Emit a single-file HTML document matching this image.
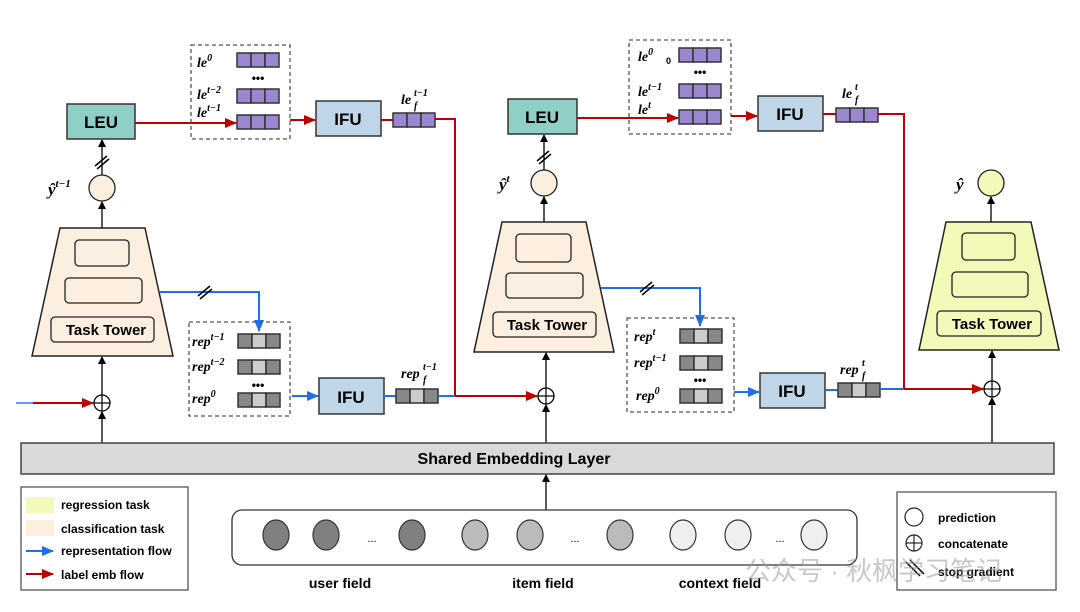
<!DOCTYPE html>
<html><head><meta charset="utf-8"><style>
html,body{margin:0;padding:0;background:#fff;}
svg{display:block;font-family:"Liberation Sans","Noto Sans CJK SC",sans-serif;}
.b{font-weight:bold;}
.m{font-family:"Liberation Serif",serif;font-style:italic;font-weight:bold;}
</style></head><body>
<svg width="1080" height="612" viewBox="0 0 1080 612" xmlns="http://www.w3.org/2000/svg">
<defs>
<marker id="ak" markerWidth="8" markerHeight="8" refX="7" refY="4" orient="auto" markerUnits="userSpaceOnUse"><path d="M0,0 L8,4 L0,8 z" fill="#000"/></marker>
<marker id="ar" markerWidth="12" markerHeight="10" refX="11" refY="5" orient="auto" markerUnits="userSpaceOnUse"><path d="M0,0 L12,5 L0,10 z" fill="#c00000"/></marker>
<marker id="ab" markerWidth="12" markerHeight="10" refX="11" refY="5" orient="auto" markerUnits="userSpaceOnUse"><path d="M0,0 L12,5 L0,10 z" fill="#1f6fe8"/></marker>
<g id="pv"><rect x="0" y="0" width="14" height="14" fill="#9b86d0" stroke="#333" stroke-width="1.5"/><rect x="14" y="0" width="14" height="14" fill="#9b86d0" stroke="#333" stroke-width="1.5"/><rect x="28" y="0" width="14" height="14" fill="#9b86d0" stroke="#333" stroke-width="1.5"/></g>
<g id="gv"><rect x="0" y="0" width="14" height="14" fill="#888" stroke="#333" stroke-width="1.5"/><rect x="14" y="0" width="14" height="14" fill="#ccc" stroke="#333" stroke-width="1.5"/><rect x="28" y="0" width="14" height="14" fill="#888" stroke="#333" stroke-width="1.5"/></g>
<g id="sg"><line x1="-7" y1="4" x2="5" y2="-6" stroke="#000" stroke-width="1.5"/><line x1="-5" y1="7" x2="7" y2="-3" stroke="#000" stroke-width="1.5"/></g>
</defs>

<!-- ===== Left column ===== -->
<polygon points="60,228 145,228 173,356 32,356" fill="#fdefe0" stroke="#222" stroke-width="1.5"/>
<rect x="75" y="240" width="54" height="26" rx="4" fill="#fdefe0" stroke="#222" stroke-width="1.3"/>
<rect x="65" y="278" width="77" height="25" rx="4" fill="#fdefe0" stroke="#222" stroke-width="1.3"/>
<rect x="51" y="317" width="103" height="25" rx="4" fill="#fdefe0" stroke="#222" stroke-width="1.3"/>
<text x="106" y="335" text-anchor="middle" class="b" font-size="15">Task Tower</text>
<line x1="102" y1="228" x2="102" y2="202" stroke="#000" stroke-width="1.3" marker-end="url(#ak)"/>
<circle cx="102" cy="188" r="13" fill="#fdefe0" stroke="#222" stroke-width="1.3"/>
<text x="48" y="195" class="m" font-size="17">ŷ<tspan dy="-8" font-size="11">t−1</tspan></text>
<line x1="102" y1="175" x2="102" y2="140" stroke="#000" stroke-width="1.3" marker-end="url(#ak)"/>
<use href="#sg" x="102" y="162"/>
<rect x="67" y="104" width="68" height="35" fill="#8fcfc8" stroke="#333" stroke-width="1.5"/>
<text x="101" y="128" text-anchor="middle" class="b" font-size="17">LEU</text>
<line x1="135" y1="123" x2="236" y2="123" stroke="#c00000" stroke-width="2" marker-end="url(#ar)"/>
<rect x="191" y="45" width="99" height="94" fill="none" stroke="#555" stroke-width="1.3" stroke-dasharray="4,3"/>
<use href="#pv" x="237" y="53"/><use href="#pv" x="237" y="89"/><use href="#pv" x="237" y="115"/>
<text x="258" y="82" text-anchor="middle" class="b" font-size="12">•••</text>
<text x="197" y="67" class="m" font-size="14">le<tspan dy="-6" font-size="10">0</tspan></text>
<text x="197" y="99" class="m" font-size="14">le<tspan dy="-6" font-size="10">t−2</tspan></text>
<text x="197" y="117" class="m" font-size="14">le<tspan dy="-6" font-size="10">t−1</tspan></text>
<line x1="290" y1="120" x2="315" y2="120" stroke="#c00000" stroke-width="2" marker-end="url(#ar)"/>
<rect x="316" y="101" width="65" height="35" fill="#bed6e8" stroke="#333" stroke-width="1.5"/>
<text x="348" y="125" text-anchor="middle" class="b" font-size="17">IFU</text>
<line x1="381" y1="120" x2="393" y2="120" stroke="#c00000" stroke-width="2"/>
<use href="#pv" x="393" y="113"/>
<text x="401" y="104" class="m" font-size="14">le</text><text x="414" y="96" class="m" font-size="10">t−1</text><text x="414" y="109" class="m" font-size="10">f</text>
<polyline points="435,119 455,119 455,396" fill="none" stroke="#c00000" stroke-width="2"/>

<polyline points="160,292 259,292 259,331" fill="none" stroke="#1f6fe8" stroke-width="2" marker-end="url(#ab)"/>
<use href="#sg" x="205" y="292"/>
<rect x="189" y="322" width="101" height="94" fill="none" stroke="#555" stroke-width="1.3" stroke-dasharray="4,3"/>
<use href="#gv" x="238" y="334"/><use href="#gv" x="238" y="360"/><use href="#gv" x="238" y="393"/>
<text x="258" y="389" text-anchor="middle" class="b" font-size="12">•••</text>
<text x="192" y="346" class="m" font-size="14">rep<tspan dy="-6" font-size="10">t−1</tspan></text>
<text x="192" y="371" class="m" font-size="14">rep<tspan dy="-6" font-size="10">t−2</tspan></text>
<text x="192" y="403" class="m" font-size="14">rep<tspan dy="-6" font-size="10">0</tspan></text>
<line x1="292" y1="396" x2="318" y2="396" stroke="#1f6fe8" stroke-width="2" marker-end="url(#ab)"/>
<rect x="319" y="378" width="65" height="36" fill="#bed6e8" stroke="#333" stroke-width="1.5"/>
<text x="351" y="403" text-anchor="middle" class="b" font-size="17">IFU</text>
<line x1="384" y1="396" x2="396" y2="396" stroke="#1f6fe8" stroke-width="2"/>
<use href="#gv" x="396" y="389"/>
<text x="401" y="378" class="m" font-size="14">rep</text><text x="423" y="370" class="m" font-size="10">t−1</text><text x="423" y="383" class="m" font-size="10">f</text>
<line x1="438" y1="396" x2="455" y2="396" stroke="#1f6fe8" stroke-width="2"/>
<line x1="455" y1="396" x2="537" y2="396" stroke="#c00000" stroke-width="2" marker-end="url(#ar)"/>

<line x1="16" y1="403" x2="33" y2="403" stroke="#5a9cf0" stroke-width="2"/>
<line x1="33" y1="403" x2="93" y2="403" stroke="#c00000" stroke-width="2" marker-end="url(#ar)"/>
<circle cx="102" cy="403" r="8" fill="#fff" stroke="#000" stroke-width="1.3"/>
<line x1="94" y1="403" x2="110" y2="403" stroke="#000" stroke-width="1.2"/><line x1="102" y1="395" x2="102" y2="411" stroke="#000" stroke-width="1.2"/>
<line x1="102" y1="395" x2="102" y2="357" stroke="#000" stroke-width="1.3" marker-end="url(#ak)"/>
<line x1="102" y1="443" x2="102" y2="412" stroke="#000" stroke-width="1.3" marker-end="url(#ak)"/>

<!-- ===== Middle column ===== -->
<polygon points="502,222 586,222 614,352 474,352" fill="#fdefe0" stroke="#222" stroke-width="1.5"/>
<rect x="516" y="234" width="55" height="28" rx="4" fill="#fdefe0" stroke="#222" stroke-width="1.3"/>
<rect x="506" y="273" width="77" height="25" rx="4" fill="#fdefe0" stroke="#222" stroke-width="1.3"/>
<rect x="493" y="312" width="103" height="25" rx="4" fill="#fdefe0" stroke="#222" stroke-width="1.3"/>
<text x="547" y="330" text-anchor="middle" class="b" font-size="15">Task Tower</text>
<line x1="544" y1="222" x2="544" y2="197" stroke="#000" stroke-width="1.3" marker-end="url(#ak)"/>
<circle cx="544" cy="183" r="13" fill="#fdefe0" stroke="#222" stroke-width="1.3"/>
<text x="499" y="190" class="m" font-size="17">ŷ<tspan dy="-8" font-size="11">t</tspan></text>
<line x1="544" y1="170" x2="544" y2="135" stroke="#000" stroke-width="1.3" marker-end="url(#ak)"/>
<use href="#sg" x="544" y="157"/>
<rect x="508" y="99" width="69" height="35" fill="#8fcfc8" stroke="#333" stroke-width="1.5"/>
<text x="542" y="123" text-anchor="middle" class="b" font-size="17">LEU</text>
<line x1="577" y1="118" x2="678" y2="118" stroke="#c00000" stroke-width="2" marker-end="url(#ar)"/>
<rect x="629" y="40" width="102" height="94" fill="none" stroke="#555" stroke-width="1.3" stroke-dasharray="4,3"/>
<use href="#pv" x="679" y="48"/><use href="#pv" x="679" y="84"/><use href="#pv" x="679" y="110"/>
<text x="700" y="76" text-anchor="middle" class="b" font-size="12">•••</text>
<text x="638" y="61" class="m" font-size="14">le<tspan dy="-6" font-size="10">0</tspan></text>
<text x="666" y="64" class="b" font-size="9">0</text>
<text x="638" y="96" class="m" font-size="14">le<tspan dy="-6" font-size="10">t−1</tspan></text>
<text x="638" y="114" class="m" font-size="14">le<tspan dy="-6" font-size="10">t</tspan></text>
<line x1="731" y1="116" x2="757" y2="116" stroke="#c00000" stroke-width="2" marker-end="url(#ar)"/>
<rect x="758" y="96" width="65" height="35" fill="#bed6e8" stroke="#333" stroke-width="1.5"/>
<text x="790" y="120" text-anchor="middle" class="b" font-size="17">IFU</text>
<line x1="823" y1="114" x2="836" y2="114" stroke="#c00000" stroke-width="2"/>
<use href="#pv" x="836" y="108"/>
<text x="842" y="98" class="m" font-size="14">le</text><text x="855" y="90" class="m" font-size="10">t</text><text x="855" y="103" class="m" font-size="10">f</text>
<polyline points="878,114 904,114 904,389" fill="none" stroke="#c00000" stroke-width="2"/>

<polyline points="601,288 700,288 700,326" fill="none" stroke="#1f6fe8" stroke-width="2" marker-end="url(#ab)"/>
<use href="#sg" x="647" y="288"/>
<rect x="627" y="318" width="107" height="94" fill="none" stroke="#555" stroke-width="1.3" stroke-dasharray="4,3"/>
<use href="#gv" x="680" y="329"/><use href="#gv" x="680" y="356"/><use href="#gv" x="680" y="389"/>
<text x="700" y="384" text-anchor="middle" class="b" font-size="12">•••</text>
<text x="634" y="341" class="m" font-size="14">rep<tspan dy="-6" font-size="10">t</tspan></text>
<text x="634" y="367" class="m" font-size="14">rep<tspan dy="-6" font-size="10">t−1</tspan></text>
<text x="636" y="400" class="m" font-size="14">rep<tspan dy="-6" font-size="10">0</tspan></text>
<line x1="734" y1="392" x2="759" y2="392" stroke="#1f6fe8" stroke-width="2" marker-end="url(#ab)"/>
<rect x="760" y="373" width="65" height="35" fill="#bed6e8" stroke="#333" stroke-width="1.5"/>
<text x="792" y="397" text-anchor="middle" class="b" font-size="17">IFU</text>
<line x1="825" y1="390" x2="838" y2="390" stroke="#1f6fe8" stroke-width="2"/>
<use href="#gv" x="838" y="383"/>
<text x="840" y="374" class="m" font-size="14">rep</text><text x="862" y="366" class="m" font-size="10">t</text><text x="862" y="379" class="m" font-size="10">f</text>
<line x1="880" y1="389" x2="904" y2="389" stroke="#1f6fe8" stroke-width="2"/>
<line x1="904" y1="389" x2="983" y2="389" stroke="#c00000" stroke-width="2" marker-end="url(#ar)"/>

<circle cx="546" cy="396" r="8" fill="#fff" stroke="#000" stroke-width="1.3"/>
<line x1="538" y1="396" x2="554" y2="396" stroke="#000" stroke-width="1.2"/><line x1="546" y1="388" x2="546" y2="404" stroke="#000" stroke-width="1.2"/>
<line x1="546" y1="388" x2="546" y2="353" stroke="#000" stroke-width="1.3" marker-end="url(#ak)"/>
<line x1="546" y1="443" x2="546" y2="405" stroke="#000" stroke-width="1.3" marker-end="url(#ak)"/>

<!-- ===== Right column ===== -->
<polygon points="946,222 1031,222 1059,350 919,350" fill="#f3f9b8" stroke="#222" stroke-width="1.5"/>
<rect x="962" y="233" width="53" height="27" rx="4" fill="#f3f9b8" stroke="#222" stroke-width="1.3"/>
<rect x="952" y="272" width="76" height="25" rx="4" fill="#f3f9b8" stroke="#222" stroke-width="1.3"/>
<rect x="937" y="311" width="104" height="25" rx="4" fill="#f3f9b8" stroke="#222" stroke-width="1.3"/>
<text x="992" y="329" text-anchor="middle" class="b" font-size="15">Task Tower</text>
<line x1="991" y1="222" x2="991" y2="197" stroke="#000" stroke-width="1.3" marker-end="url(#ak)"/>
<circle cx="991" cy="183" r="13" fill="#f3f9b8" stroke="#222" stroke-width="1.3"/>
<text x="956" y="190" class="m" font-size="17">ŷ</text>
<circle cx="992" cy="389" r="8" fill="#fff" stroke="#000" stroke-width="1.3"/>
<line x1="984" y1="389" x2="1000" y2="389" stroke="#000" stroke-width="1.2"/><line x1="992" y1="381" x2="992" y2="397" stroke="#000" stroke-width="1.2"/>
<line x1="992" y1="381" x2="992" y2="351" stroke="#000" stroke-width="1.3" marker-end="url(#ak)"/>
<line x1="992" y1="443" x2="992" y2="398" stroke="#000" stroke-width="1.3" marker-end="url(#ak)"/>

<!-- ===== Embedding ===== -->
<rect x="21" y="443" width="1033" height="31" fill="#d9d9d9" stroke="#444" stroke-width="1.5"/>
<text x="514" y="464" text-anchor="middle" class="b" font-size="16">Shared Embedding Layer</text>
<line x1="546" y1="510" x2="546" y2="475" stroke="#000" stroke-width="1.3" marker-end="url(#ak)"/>
<rect x="232" y="510" width="625" height="55" rx="10" fill="#fff" stroke="#333" stroke-width="1.3"/>
<g stroke="#333" stroke-width="1.2">
<ellipse cx="276" cy="535" rx="13" ry="15" fill="#808080"/><ellipse cx="326" cy="535" rx="13" ry="15" fill="#808080"/><ellipse cx="412" cy="535" rx="13" ry="15" fill="#808080"/>
<ellipse cx="475" cy="535" rx="13" ry="15" fill="#bbb"/><ellipse cx="530" cy="535" rx="13" ry="15" fill="#bbb"/><ellipse cx="620" cy="535" rx="13" ry="15" fill="#bbb"/>
<ellipse cx="683" cy="535" rx="13" ry="15" fill="#efefef"/><ellipse cx="738" cy="535" rx="13" ry="15" fill="#efefef"/><ellipse cx="814" cy="535" rx="13" ry="15" fill="#efefef"/>
</g>
<text x="372" y="542" text-anchor="middle" font-size="11">...</text>
<text x="575" y="542" text-anchor="middle" font-size="11">...</text>
<text x="780" y="542" text-anchor="middle" font-size="11">...</text>
<text x="340" y="588" text-anchor="middle" class="b" font-size="14">user field</text>
<text x="543" y="588" text-anchor="middle" class="b" font-size="14">item field</text>
<text x="720" y="588" text-anchor="middle" class="b" font-size="14">context field</text>

<!-- legends -->
<rect x="21" y="487" width="167" height="103" fill="#fff" stroke="#555" stroke-width="1.3"/>
<rect x="26" y="497" width="28" height="16" fill="#f3f9b8"/>
<rect x="26" y="520" width="28" height="16" fill="#fdefe0"/>
<line x1="26" y1="551" x2="53" y2="551" stroke="#1f6fe8" stroke-width="2" marker-end="url(#ab)"/>
<line x1="26" y1="574" x2="53" y2="574" stroke="#c00000" stroke-width="2" marker-end="url(#ar)"/>
<g class="b" font-size="12"><text x="61" y="509">regression task</text><text x="61" y="533">classification task</text><text x="61" y="555">representation flow</text><text x="61" y="579">label emb flow</text></g>
<rect x="897" y="492" width="159" height="98" fill="#fff" stroke="#555" stroke-width="1.3"/>
<circle cx="914" cy="517" r="9" fill="#fff" stroke="#222" stroke-width="1.2"/>
<circle cx="914" cy="543" r="8" fill="#fff" stroke="#222" stroke-width="1.2"/>
<line x1="906" y1="543" x2="922" y2="543" stroke="#000"/><line x1="914" y1="535" x2="914" y2="551" stroke="#000"/>
<line x1="906" y1="562" x2="920" y2="576" stroke="#000" stroke-width="1.5"/><line x1="910" y1="560" x2="924" y2="574" stroke="#000" stroke-width="1.5"/>
<g class="b" font-size="12"><text x="938" y="522">prediction</text><text x="938" y="548">concatenate</text><text x="938" y="576">stop gradient</text></g>
<text x="745" y="580" font-size="26" fill="#999" fill-opacity="0.55">公众号 · 秋枫学习笔记</text>
</svg>
</body></html>
